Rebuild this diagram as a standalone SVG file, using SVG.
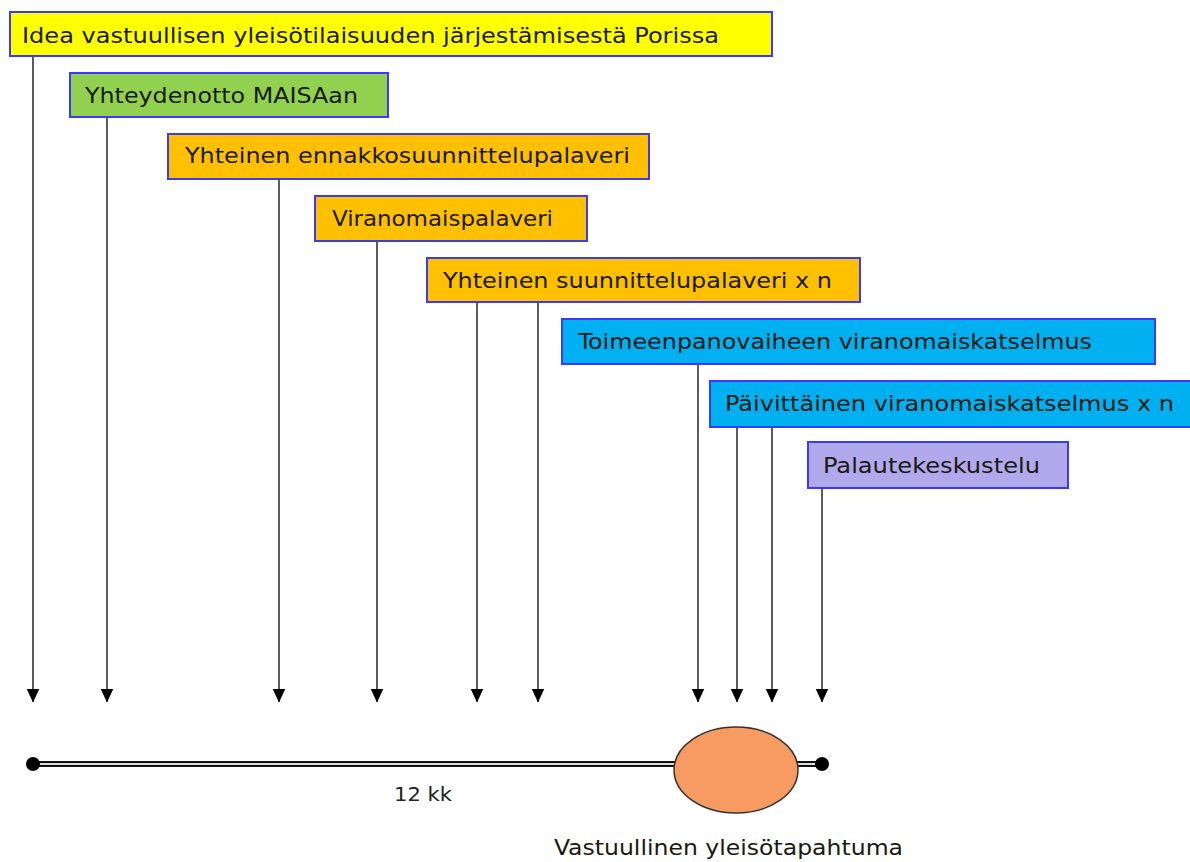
<svg xmlns="http://www.w3.org/2000/svg" width="1190" height="862" viewBox="0 0 1190 862">
<style>
.box{stroke:#3a3aff;stroke-width:2}
.lbl{font-family:"DejaVu Sans Condensed","DejaVu Sans",Verdana,sans-serif;font-size:22px;fill:#1a1a10}
.conn{stroke:#333;stroke-width:1.6;fill:none;marker-end:url(#ah)}
</style>
<defs>
<marker id="ah" markerUnits="userSpaceOnUse" markerWidth="14" markerHeight="14" viewBox="0 0 13 12" refX="12.5" refY="6" orient="auto">
<path d="M0,0 L13,6 L0,12 Z" fill="#000"/>
</marker>
</defs>
<rect width="1190" height="862" fill="#fff"/>
<g id="connectors">
<line class="conn" x1="33" y1="56" x2="33" y2="702"/>
<line class="conn" x1="107" y1="117" x2="107" y2="702"/>
<line class="conn" x1="279" y1="179" x2="279" y2="702"/>
<line class="conn" x1="377" y1="241" x2="377" y2="702"/>
<line class="conn" x1="477" y1="302" x2="477" y2="702"/>
<line class="conn" x1="538" y1="302" x2="538" y2="702"/>
<line class="conn" x1="698" y1="364" x2="698" y2="702"/>
<line class="conn" x1="737" y1="427" x2="737" y2="702"/>
<line class="conn" x1="772" y1="427" x2="772" y2="702"/>
<line class="conn" x1="822" y1="488" x2="822" y2="702"/>
</g>
<g id="timeline">
<line x1="33" y1="764" x2="822" y2="764" stroke="#111" stroke-width="6"/>
<line x1="33" y1="764" x2="822" y2="764" stroke="#ddd" stroke-width="2"/>
<circle cx="33" cy="764" r="7" fill="#000"/>
<circle cx="822" cy="764" r="7" fill="#000"/>
<text x="394" y="801" font-family="'DejaVu Sans Condensed','DejaVu Sans',sans-serif" font-size="20" fill="#222" textLength="58" lengthAdjust="spacingAndGlyphs">12 kk</text>
</g>
<g id="event">
<ellipse cx="736" cy="770" rx="62" ry="43" fill="#f79b62" stroke="#333" stroke-width="1.5"/>
<text x="554" y="855" font-family="'DejaVu Sans Condensed','DejaVu Sans',sans-serif" font-size="22" fill="#1a1a10" textLength="349" lengthAdjust="spacingAndGlyphs">Vastuullinen yleisötapahtuma</text>
</g>
<g id="n1">
<rect class="box" x="10" y="12" width="762" height="44" fill="#ffff00"/>
<text class="lbl" x="22" y="43" textLength="697" lengthAdjust="spacingAndGlyphs">Idea vastuullisen yleisötilaisuuden järjestämisestä Porissa</text>
</g>
<g id="n2">
<rect class="box" x="70" y="73" width="318" height="44" fill="#92d050"/>
<text class="lbl" x="85" y="103" textLength="273" lengthAdjust="spacingAndGlyphs">Yhteydenotto MAISAan</text>
</g>
<g id="n3">
<rect class="box" x="168" y="134" width="481" height="45" fill="#ffc000"/>
<text class="lbl" x="185" y="163" textLength="445" lengthAdjust="spacingAndGlyphs">Yhteinen ennakkosuunnittelupalaveri</text>
</g>
<g id="n4">
<rect class="box" x="315" y="196" width="272" height="45" fill="#ffc000"/>
<text class="lbl" x="332" y="226" textLength="221" lengthAdjust="spacingAndGlyphs">Viranomaispalaveri</text>
</g>
<g id="n5">
<rect class="box" x="427" y="258" width="433" height="44" fill="#ffc000"/>
<text class="lbl" x="443" y="288" textLength="389" lengthAdjust="spacingAndGlyphs">Yhteinen suunnittelupalaveri x n</text>
</g>
<g id="n6">
<rect class="box" x="562" y="319" width="593" height="45" fill="#00b0f0"/>
<text class="lbl" x="578" y="349" textLength="514" lengthAdjust="spacingAndGlyphs">Toimeenpanovaiheen viranomaiskatselmus</text>
</g>
<g id="n7">
<rect class="box" x="710" y="381" width="486" height="46" fill="#00b0f0"/>
<text class="lbl" x="725" y="411" textLength="449" lengthAdjust="spacingAndGlyphs">Päivittäinen viranomaiskatselmus x n</text>
</g>
<g id="n8">
<rect class="box" x="808" y="442" width="260" height="46" fill="#b1a9ec"/>
<text class="lbl" x="823" y="473" textLength="217" lengthAdjust="spacingAndGlyphs">Palautekeskustelu</text>
</g>
</svg>
